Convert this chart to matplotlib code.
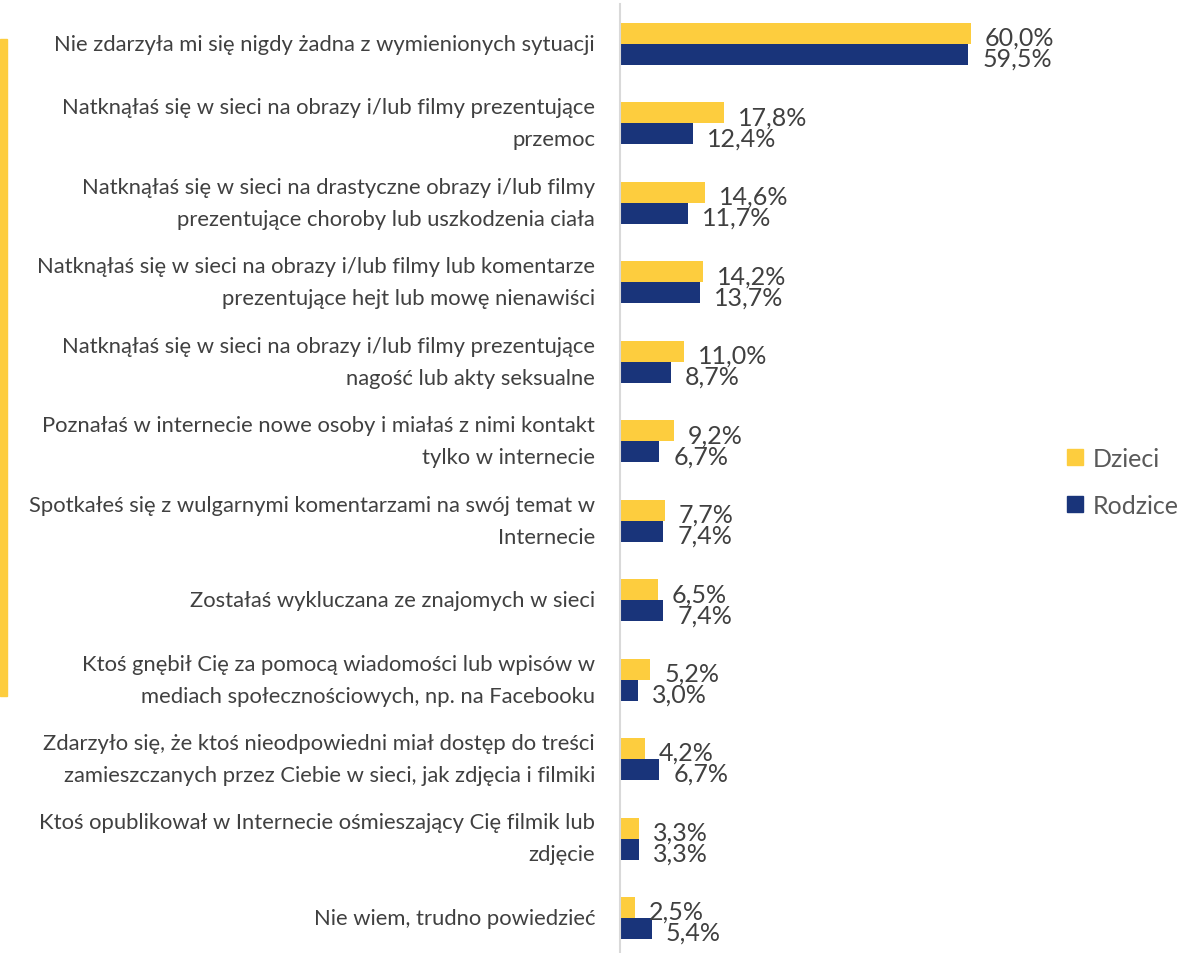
import matplotlib
matplotlib.use("Agg")
import matplotlib.pyplot as plt
from matplotlib.patches import Rectangle
from matplotlib.lines import Line2D
import numpy as np

categories = [
    "Nie zdarzyła mi się nigdy żadna z wymienionych sytuacji",
    "Natknąłaś się w sieci na obrazy i/lub filmy prezentujące\nprzemoc",
    "Natknąłaś się w sieci na drastyczne obrazy i/lub filmy\nprezentujące choroby lub uszkodzenia ciała",
    "Natknąłaś się w sieci na obrazy i/lub filmy lub komentarze\nprezentujące hejt lub mowę nienawiści",
    "Natknąłaś się w sieci na obrazy i/lub filmy prezentujące\nnagość lub akty seksualne",
    "Poznałaś w internecie nowe osoby i miałaś z nimi kontakt\ntylko w internecie",
    "Spotkałeś się z wulgarnymi komentarzami na swój temat w\nInternecie",
    "Zostałaś wykluczana ze znajomych w sieci",
    "Ktoś gnębił Cię za pomocą wiadomości lub wpisów w\nmediach społecznościowych, np. na Facebooku",
    "Zdarzyło się, że ktoś nieodpowiedni miał dostęp do treści\nzamieszczanych przez Ciebie w sieci, jak zdjęcia i filmiki",
    "Ktoś opublikował w Internecie ośmieszający Cię filmik lub\nzdjęcie",
    "Nie wiem, trudno powiedzieć",
]
dzieci = [60.0, 17.8, 14.6, 14.2, 11.0, 9.2, 7.7, 6.5, 5.2, 4.2, 3.3, 2.5]
rodzice = [59.5, 12.4, 11.7, 13.7, 8.7, 6.7, 7.4, 7.4, 3.0, 6.7, 3.3, 5.4]
series_names = ["Dzieci", "Rodzice"]

YELLOW = "#FDCD3E"
BLUE = "#19347A"
TEXT = "#404040"
LEG_TEXT = "#595959"

plt.rcParams['font.family'] = ['Lato', 'DejaVu Sans']

W, H = 1203, 954
fig = plt.figure(figsize=(W / 100, H / 100), dpi=100)

ax_left = 620 / W
ax_right = 1040 / W
ax = fig.add_axes([ax_left, 0, ax_right - ax_left, 949 / H])

n = len(categories)
spacing = 79.45
first = 45
ymax = (954 - first) / spacing
ymin = (5 - first) / spacing
ax.set_ylim(ymax, ymin)
px_per_pct = 5.85
ax.set_xlim(0, (1040 - 620) / px_per_pct)

y = np.arange(n)
bh = 21 / spacing
ax.barh(y - bh / 2, dzieci, height=bh, color=YELLOW, label=series_names[0])
ax.barh(y + bh / 2, rodzice, height=bh, color=BLUE, label=series_names[1])

off = 14 / px_per_pct
for i in range(n):
    ax.text(dzieci[i] + off, y[i] - bh / 2 + 0.05, f"{dzieci[i]:.1f}%".replace(".", ","),
            va="center", ha="left", fontsize=18, color=TEXT)
    ax.text(rodzice[i] + off, y[i] + bh / 2 + 0.05, f"{rodzice[i]:.1f}%".replace(".", ","),
            va="center", ha="left", fontsize=18, color=TEXT)

ax.set_yticks(y)
ax.set_yticklabels(categories, fontsize=15.8, color=TEXT, linespacing=1.75)
for lbl in ax.get_yticklabels():
    lbl.set_va("center")
ax.tick_params(axis="y", length=0, pad=18)
ax.set_xticks([])
for s in ["top", "right", "bottom"]:
    ax.spines[s].set_visible(False)
ax.spines["left"].set_color("#D9D9D9")
ax.spines["left"].set_linewidth(1.5)
ax.patch.set_alpha(0)

# left decorative strip
fig.patches.append(Rectangle((0, 1 - 697 / H), 7 / W, (697 - 40) / H,
                             transform=fig.transFigure, color=YELLOW, zorder=0))

handles = [Line2D([], [], marker="s", linestyle="", color=YELLOW, markersize=11),
           Line2D([], [], marker="s", linestyle="", color=BLUE, markersize=11)]
fig.legend(handles, series_names, loc="center left",
           bbox_to_anchor=(1040 / W, 1 - 483 / H), frameon=False,
           fontsize=18, labelcolor=LEG_TEXT, handletextpad=0.2, labelspacing=0.95,
           handlelength=1.0)

fig.savefig("out.png", dpi=100)
